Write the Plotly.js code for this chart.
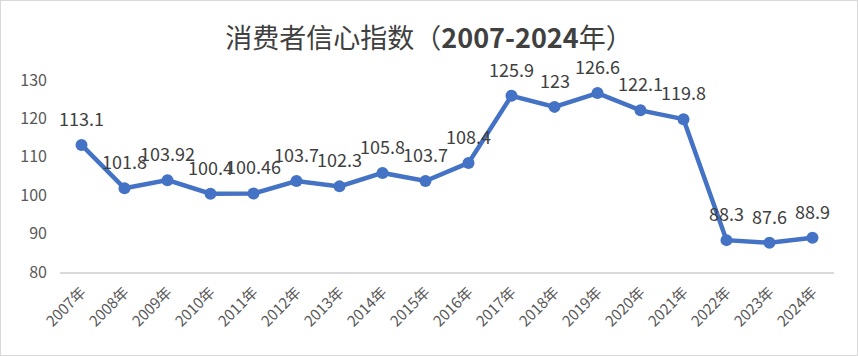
<!DOCTYPE html>
<html><head><meta charset="utf-8">
<script src="https://cdn.plot.ly/plotly-3.0.1.min.js"></script>
<style>html,body{margin:0;padding:0;background:#fff;}#chart{width:858px;height:356px;box-sizing:border-box;border:1px solid #d9d9d9;}</style>
</head><body><div id="chart"></div>
<script>
const years = ["2007年","2008年","2009年","2010年","2011年","2012年","2013年","2014年","2015年","2016年","2017年","2018年","2019年","2020年","2021年","2022年","2023年","2024年"];
const values = [113.1,101.8,103.92,100.4,100.46,103.7,102.3,105.8,103.7,108.4,125.9,123,126.6,122.1,119.8,88.3,87.6,88.9];
const labels = ["113.1","101.8","103.92","100.4","100.46","103.7","102.3","105.8","103.7","108.4","125.9","123","126.6","122.1","119.8","88.3","87.6","88.9"];
const titleText = "消费者信心指数（<b>2007-2024</b>年）";

const font = "'Noto Sans CJK SC', 'Noto Sans', sans-serif";
const annotations = years.map((y,i)=>({
  x: y, y: values[i], xref:'x', yref:'y', text: labels[i], showarrow:false,
  yshift: 27, font:{family:font, size:18, color:'#404040'}
}));
Plotly.newPlot('chart', [{
  x: years, y: values, type:'scatter', mode:'lines+markers',
  line:{color:'#4472C4', width:4.5}, marker:{color:'#4472C4', size:12},
  cliponaxis:false
}], {
  width:856, height:354,
  margin:{l:59, r:23, t:79, b:83},
  paper_bgcolor:'#fff', plot_bgcolor:'#fff',
  showlegend:false,
  title:{text:titleText, x:0.5, xanchor:'center', y:0.895, yanchor:'middle', font:{family:font, size:27, color:'#404040'}},
  xaxis:{type:'category', range:[-0.5,17.5], tickangle:-45, showgrid:false, showline:true, linecolor:'#d9d9d9', linewidth:1.5, ticks:'', tickfont:{family:font, size:15, color:'#595959'}, zeroline:false, ticklabelstandoff:4},
  yaxis:{range:[80,130], dtick:10, showgrid:false, showline:false, zeroline:false, ticks:'', tickfont:{family:font, size:16, color:'#595959'}, ticklabelstandoff:12},
  annotations: annotations
}, {displayModeBar:false, staticPlot:true});
</script></body></html>
